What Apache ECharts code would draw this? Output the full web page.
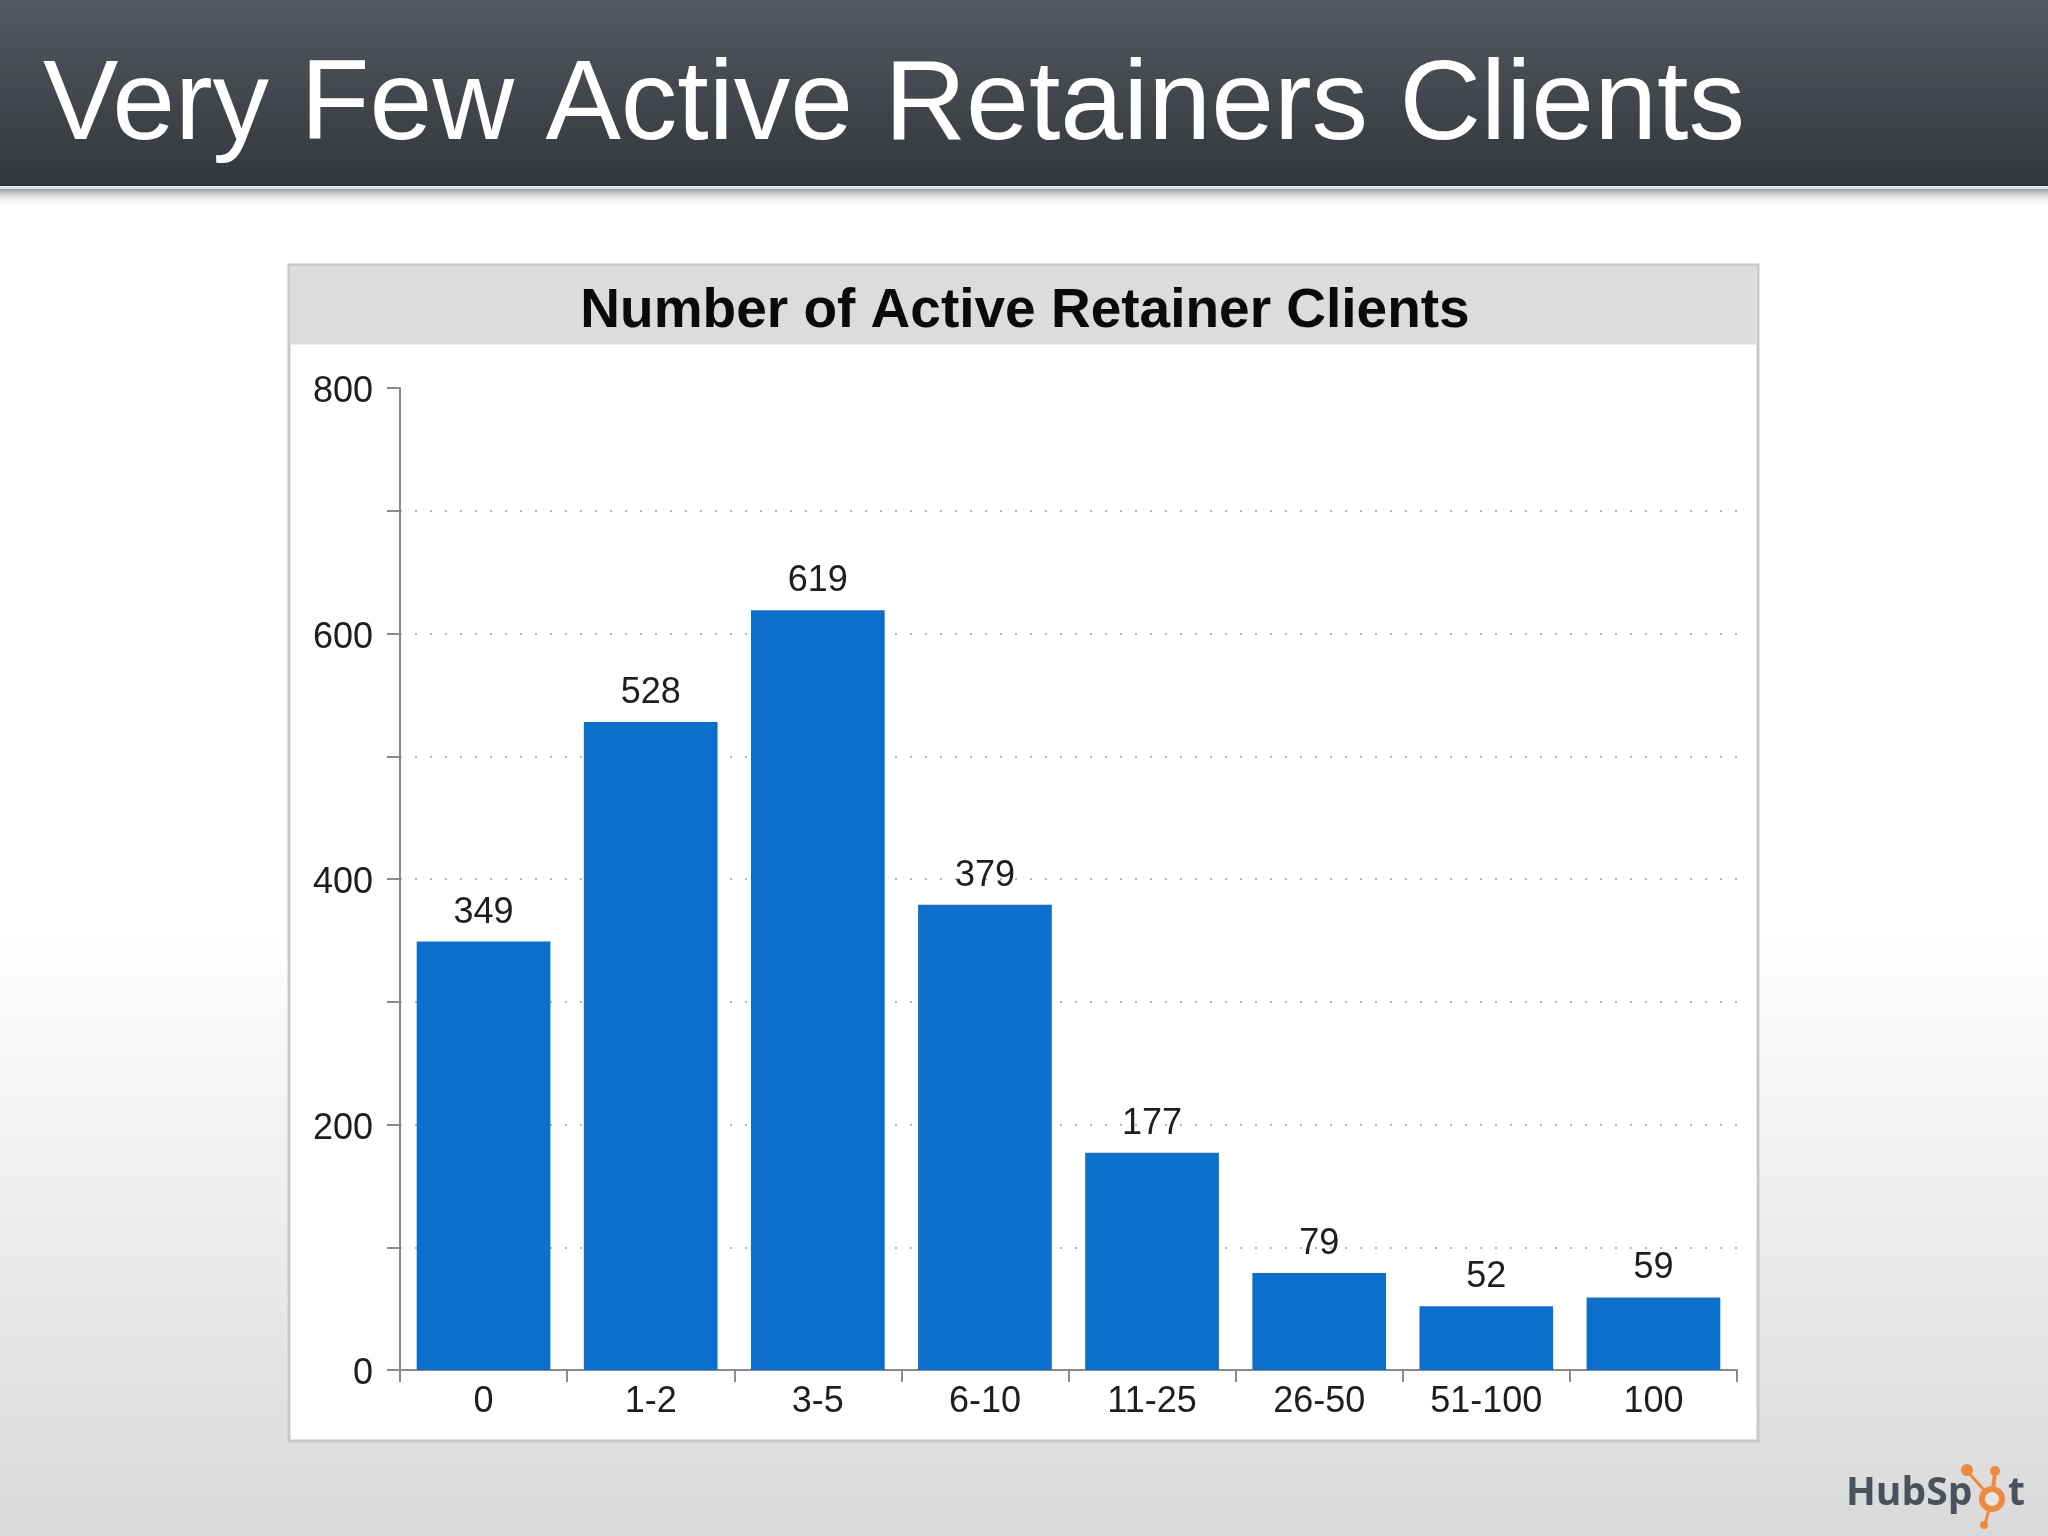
<!DOCTYPE html>
<html>
<head>
<meta charset="utf-8">
<script src="https://cdn.jsdelivr.net/npm/echarts@6/dist/echarts.min.js"></script>
<style>html,body{margin:0;padding:0;background:#fff}#c{width:2048px;height:1536px}</style>
</head>
<body>
<div id="c"></div>
<script>
const slideTitle = 'Very Few Active Retainers Clients';
const chartTitle = 'Number of Active Retainer Clients';
const categories = ['0', '1-2', '3-5', '6-10', '11-25', '26-50', '51-100', '100'];
const values = [349, 528, 619, 379, 177, 79, 52, 59];
const yMin = 0, yMax = 800, yInterval = 100, yLabelStep = 200;

const chart = echarts.init(document.getElementById('c'), null, {renderer: 'canvas'});
const FONT = '"Liberation Sans", Arial, Helvetica, sans-serif';
chart.setOption({
  backgroundColor: {
    type: 'linear', x: 0, y: 0, x2: 0, y2: 1,
    colorStops: [{offset: 0, color: '#ffffff'}, {offset: 0.6, color: '#ffffff'}, {offset: 1, color: '#d9d9d9'}]
  },
  animation: false,
  textStyle: {fontFamily: FONT},
  grid: {left: 400, right: 311, top: 388, bottom: 166, containLabel: false},
  xAxis: {
    type: 'category',
    data: categories,
    boundaryGap: true,
    axisLine: {show: true, lineStyle: {color: '#8a8a8a', width: 2}},
    axisTick: {show: true, alignWithLabel: false, length: 12, lineStyle: {color: '#8a8a8a', width: 2}},
    axisLabel: {fontSize: 36, color: '#1e1e1e', fontFamily: FONT, margin: 14, interval: 0},
    splitLine: {show: false}
  },
  yAxis: {
    type: 'value',
    min: yMin, max: yMax, interval: yInterval,
    axisLine: {show: true, lineStyle: {color: '#8a8a8a', width: 2}},
    axisTick: {show: true, length: 13, lineStyle: {color: '#8a8a8a', width: 2}},
    axisLabel: {
      margin: 27,
      formatter: v => (v % yLabelStep === 0 ? '{a|' + v + '}' : ''),
      rich: {a: {fontSize: 36, color: '#1e1e1e', fontFamily: FONT, padding: [9, 0, 0, 0]}}
    },
    splitLine: {show: true, showMaxLine: false, showMinLine: false, lineStyle: {color: '#b5b5b5', width: 2, type: [2, 13]}}
  },
  series: [{
    type: 'bar',
    data: values,
    barCategoryGap: '20%',
    itemStyle: {color: '#0c6fcc'},
    label: {show: true, position: 'top', distance: 11, fontSize: 36, color: '#1e1e1e', fontFamily: FONT},
    z: 3
  }],
  graphic: [
    {type: 'rect', z: 50, shape: {x: 0, y: 0, width: 2048, height: 186},
      style: {fill: {type: 'linear', x: 0, y: 0, x2: 0, y2: 1, colorStops: [{offset: 0, color: '#55595f'}, {offset: 1, color: '#33363b'}]}}},
    {type: 'rect', z: 50, shape: {x: 0, y: 186, width: 2048, height: 3}, style: {fill: '#e2e4e6'}},
    {type: 'rect', z: 50, shape: {x: 0, y: 189, width: 2048, height: 18},
      style: {fill: {type: 'linear', x: 0, y: 0, x2: 0, y2: 1, colorStops: [{offset: 0, color: '#9c9fa2'}, {offset: 1, color: 'rgba(255,255,255,0)'}]}}},
    {type: 'text', z: 51, style: {x: 43, y: 108, text: slideTitle, fill: '#ffffff', font: '113px ' + FONT, verticalAlign: 'middle', align: 'left'}},
    {type: 'rect', z: -5, shape: {x: 289, y: 265, width: 1469, height: 1176}, style: {fill: '#ffffff', stroke: '#c9c9c9', lineWidth: 3}},
    {type: 'rect', z: -4, shape: {x: 290.5, y: 266.5, width: 1466, height: 78}, style: {fill: '#dcdcde'}},
    {type: 'text', z: 10, style: {x: 1025, y: 312, text: chartTitle, fill: '#0a0a0a', font: 'bold 55px ' + FONT, align: 'center', verticalAlign: 'middle'}},
    // HubSpot logo
    {type: 'text', z: 10, style: {x: 1846, y: 1494, text: 'HubSp', fill: '#4b5259', font: 'bold 39px "Open Sans", sans-serif', verticalAlign: 'middle', align: 'left'}},
    {type: 'line', z: 10, shape: {x1: 1992, y1: 1499, x2: 1995, y2: 1472}, style: {stroke: '#ef8a3c', lineWidth: 4}},
    {type: 'line', z: 10, shape: {x1: 1992, y1: 1499, x2: 1968, y2: 1472}, style: {stroke: '#ef8a3c', lineWidth: 3}},
    {type: 'line', z: 10, shape: {x1: 1992, y1: 1499, x2: 1985, y2: 1524}, style: {stroke: '#ef8a3c', lineWidth: 3}},
    {type: 'circle', z: 10, shape: {cx: 1995, cy: 1471, r: 5}, style: {fill: '#ef8a3c'}},
    {type: 'circle', z: 10, shape: {cx: 1967, cy: 1470, r: 6}, style: {fill: '#ef8a3c'}},
    {type: 'circle', z: 10, shape: {cx: 1984, cy: 1525, r: 4}, style: {fill: '#ef8a3c'}},
    {type: 'circle', z: 11, shape: {cx: 1992, cy: 1499, r: 10}, style: {fill: '#e4e4e4', stroke: '#ef8a3c', lineWidth: 6}},
    {type: 'text', z: 10, style: {x: 2008, y: 1494, text: 't', fill: '#4b5259', font: 'bold 39px "Open Sans", sans-serif', verticalAlign: 'middle', align: 'left'}}
  ]
});
</script>
</body>
</html>
